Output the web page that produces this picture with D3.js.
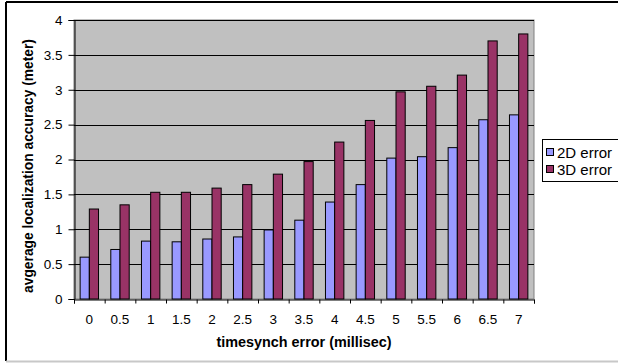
<!DOCTYPE html>
<html>
<head>
<meta charset="utf-8">
<script src="https://cdn.jsdelivr.net/npm/d3@7"></script>
<style>
    body { margin: 0; background: #fff; }
    text { font-family: Arial, "Liberation Sans", sans-serif; fill: #000; }
</style>
</head>
<body>
<svg id="chart" width="618" height="363"></svg>
<script>
// data
var categories = ['0', '0.5', '1', '1.5', '2', '2.5', '3', '3.5', '4', '4.5', '5', '5.5', '6', '6.5', '7'];
var seriesNames = ['2D error', '3D error'];
var err2d = [0.60, 0.71, 0.83, 0.82, 0.86, 0.89, 0.99, 1.13, 1.39, 1.64, 2.02, 2.04, 2.17, 2.57, 2.64];
var err3d = [1.29, 1.35, 1.53, 1.53, 1.59, 1.64, 1.79, 1.97, 2.25, 2.56, 2.97, 3.05, 3.21, 3.70, 3.80];
var yTicks = [0, 0.5, 1, 1.5, 2, 2.5, 3, 3.5, 4];
var colors = ['#9999FF', '#993366'];

var svg = d3.select('#chart');
var margin = {left: 74, top: 20, right: 534, bottom: 299};

// outer frame
svg.append('line').attr('x1', 6).attr('x2', 618).attr('y1', 2).attr('y2', 2)
    .style('stroke', '#000').style('stroke-width', 2);
svg.append('line').attr('x1', 6).attr('x2', 6).attr('y1', 2).attr('y2', 361)
    .style('stroke', '#000').style('stroke-width', 2);
svg.append('line').attr('x1', 6).attr('x2', 618).attr('y1', 361.5).attr('y2', 361.5)
    .style('stroke', '#c8c8c8').style('stroke-width', 2);

var x = d3.scaleBand().domain(categories).range([margin.left, margin.right]);
var x1 = d3.scaleBand().domain(seriesNames).range([0, 18.4]);
var y = d3.scaleLinear().domain([0, 4]).range([margin.bottom, margin.top]);

// plot area
svg.append('rect')
    .attr('x', margin.left).attr('y', margin.top)
    .attr('width', margin.right - margin.left).attr('height', margin.bottom - margin.top)
    .style('fill', '#C0C0C0').style('stroke', '#808080').style('stroke-width', 1);

// gridlines
yTicks.slice(1).forEach(function (t) {
    svg.append('line')
        .attr('x1', margin.left).attr('x2', margin.right)
        .attr('y1', Math.round(y(t)) + 0.5).attr('y2', Math.round(y(t)) + 0.5)
        .style('stroke', '#000').style('stroke-width', 1);
});

// bars
var series = [err2d, err3d];
series.forEach(function (vals, s) {
    svg.append('g').selectAll('rect')
        .data(vals)
        .enter().append('rect')
        .attr('x', function (d, i) { return x(categories[i]) + x.bandwidth() / 2 - 9.2 + x1(seriesNames[s]); })
        .attr('y', function (d) { return y(d); })
        .attr('width', x1.bandwidth())
        .attr('height', function (d) { return y(0) - y(d); })
        .style('fill', colors[s])
        .style('stroke', '#000')
        .style('stroke-width', 1);
});

// axes
var yAxis = d3.axisLeft(y).tickValues(yTicks).tickSize(6).tickPadding(6)
    .tickFormat(function (d) { return d; });
var gy = svg.append('g').attr('transform', 'translate(' + (margin.left + 0.5) + ',0)').call(yAxis);
gy.selectAll('text').style('font-size', '13.5px');

var xAxis = d3.scaleLinear().domain([0, categories.length]).range([margin.left, margin.right]);
var gx = svg.append('g').attr('transform', 'translate(0,' + (margin.bottom + 0.5) + ')')
    .call(d3.axisBottom(xAxis).ticks(categories.length).tickSize(4).tickFormat(''));
gx.selectAll('text').remove();

svg.append('g').selectAll('text')
    .data(categories)
    .enter().append('text')
    .attr('x', function (d) { return x(d) + x.bandwidth() / 2; })
    .attr('y', 324)
    .attr('text-anchor', 'middle')
    .style('font-size', '13.5px')
    .text(function (d) { return d; });

[gx, gy].forEach(function (g) {
    g.select('.domain').style('stroke', '#000');
    g.selectAll('line').style('stroke', '#000');
});

// axis titles
svg.append('text')
    .attr('x', (margin.left + margin.right) / 2)
    .attr('y', 347)
    .attr('text-anchor', 'middle')
    .style('font-size', '14.4px').style('font-weight', 'bold')
    .text('timesynch error (millisec)');
svg.append('text')
    .attr('transform', 'translate(33,166) rotate(-90)')
    .attr('text-anchor', 'middle')
    .style('font-size', '13.8px').style('font-weight', 'bold')
    .text('avgerage localization accuracy (meter)');

// legend
var legend = svg.append('g').attr('transform', 'translate(542,139)');
legend.append('rect').attr('x', 0.5).attr('y', 0.5).attr('width', 80).attr('height', 42)
    .style('fill', '#fff').style('stroke', '#000');
seriesNames.forEach(function (name, i) {
    legend.append('rect')
        .attr('x', 4.5).attr('y', 9.5 + i * 17)
        .attr('width', 7).attr('height', 7)
        .style('fill', colors[i]).style('stroke', '#000');
    legend.append('text')
        .attr('x', 15).attr('y', 18.5 + i * 17)
        .style('font-size', '15px')
        .text(name);
});
</script>
</body>
</html>
